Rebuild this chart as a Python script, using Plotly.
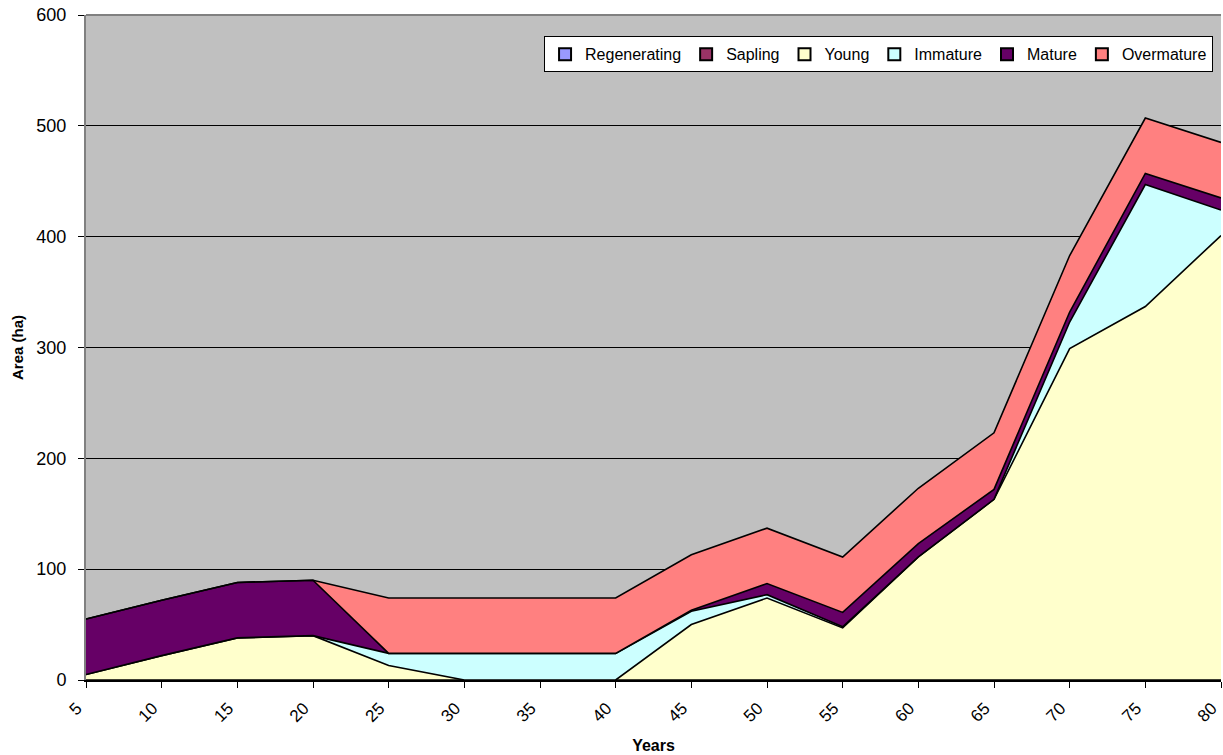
import plotly.graph_objects as go

years = [5, 10, 15, 20, 25, 30, 35, 40, 45, 50, 55, 60, 65, 70, 75, 80]
regenerating = [0] * 16
sapling = [0] * 16
young = [5, 22, 38, 40, 13, 0, 0, 0, 50, 74, 47, 111, 163, 299, 337, 401]
immature = [0, 0, 0, 0, 11, 24, 24, 24, 12, 3, 1, 0, 0, 24, 110, 23]
mature = [50, 50, 50, 50, 0, 0, 0, 0, 1, 10, 13, 12, 9, 9, 10, 11]
overmature = [0, 0, 0, 0, 50, 50, 50, 50, 50, 50, 50, 50, 51, 51, 50, 50]

series = [
    ("Regenerating", regenerating, "#9999FF"),
    ("Sapling", sapling, "#993366"),
    ("Young", young, "#FFFFCC"),
    ("Immature", immature, "#CCFFFF"),
    ("Mature", mature, "#660066"),
    ("Overmature", overmature, "#FF8080"),
]

fig = go.Figure()
for name, vals, col in series:
    fig.add_trace(go.Scatter(
        x=years, y=vals, name=name, mode="lines", stackgroup="one",
        fillcolor=col, line=dict(color="black", width=1.6),
        showlegend=False, legendgroup=name,
    ))
# legend-only square swatches
for name, vals, col in series:
    fig.add_trace(go.Bar(
        x=[None], y=[None], name=name, marker=dict(color=col, line=dict(color="black", width=1.5)),
        showlegend=True, legendgroup=name,
    ))

font = "Liberation Sans, Arial, sans-serif"
fig.update_layout(
    width=1223, height=755,
    margin=dict(l=86, r=2, t=15, b=75),
    paper_bgcolor="white",
    plot_bgcolor="#C0C0C0",
    font=dict(family=font, size=17, color="black"),
    showlegend=True,
    legend=dict(
        orientation="h", x=0.993, xanchor="right", y=0.968, yanchor="top",
        bgcolor="white", bordercolor="black", borderwidth=1,
        font=dict(size=16), itemwidth=30, traceorder="normal",
        tracegroupgap=0, itemsizing="constant",
    ),
    xaxis=dict(
        range=[5, 80], tickvals=years, ticktext=[str(y) for y in years],
        tickangle=-45, ticks="outside", ticklen=6, tickcolor="black",
        showline=True, linecolor="black", linewidth=1.5, mirror=False,
        showgrid=False, zeroline=False,
        title=dict(text="<b>Years</b>", font=dict(size=16), standoff=15),
        tickfont=dict(size=17), ticklabelstandoff=4, ticklabelshift=-9,
        ticklabeloverflow="allow",
    ),
    yaxis=dict(
        range=[0, 600], dtick=100, ticks="outside", ticklen=6, tickcolor="black",
        showline=True, linecolor="#808080", linewidth=2, mirror=False,
        showgrid=True, gridcolor="black", gridwidth=1, zeroline=False,
        title=dict(text="<b>Area (ha)</b>", font=dict(size=15), standoff=9),
        tickfont=dict(size=18), ticklabelstandoff=8,
    ),
    shapes=[dict(type="line", xref="paper", yref="paper", x0=0, x1=1, y0=1, y1=1,
                 line=dict(color="#808080", width=2))],
)

fig.write_html("out.html", config={"displayModeBar": False},
               post_script="document.body.style.margin='0';document.body.style.padding='0';")
